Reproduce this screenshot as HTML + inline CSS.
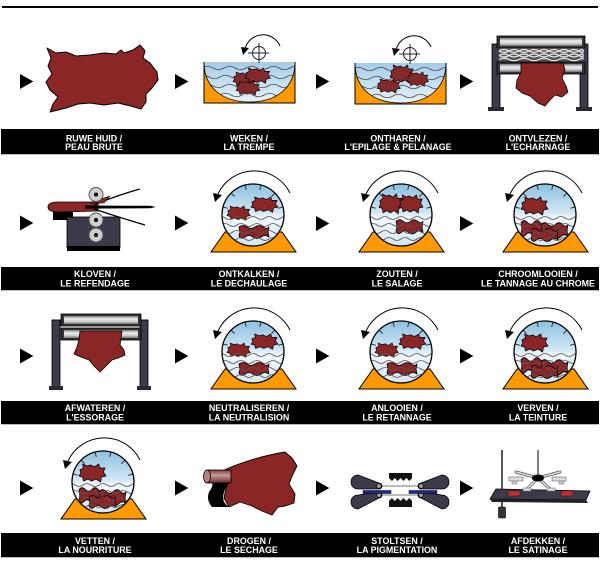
<!DOCTYPE html>
<html><head><meta charset="utf-8">
<style>
html,body{margin:0;padding:0;background:#fff;}
svg{display:block;}
text{font-family:"Liberation Sans",Arial,sans-serif;font-weight:bold;font-size:8.9px;fill:#fff;text-anchor:middle;}
</style></head><body>
<svg width="600" height="561" viewBox="0 0 600 561" xmlns="http://www.w3.org/2000/svg" xmlns:xlink="http://www.w3.org/1999/xlink">
<defs>
 <linearGradient id="water" x1="0" y1="0" x2="0" y2="1">
  <stop offset="0" stop-color="#a3cce8"/><stop offset="1" stop-color="#e6f2fa"/>
 </linearGradient>
 <linearGradient id="sky" x1="0" y1="0" x2="0" y2="1">
  <stop offset="0" stop-color="#8cc0e0"/><stop offset="0.45" stop-color="#cfe5f3"/><stop offset="0.55" stop-color="#f2f8fc"/><stop offset="1" stop-color="#d2e8f5"/>
 </linearGradient>
 <linearGradient id="roll" x1="0" y1="0" x2="0" y2="1">
  <stop offset="0" stop-color="#7a7a7a"/><stop offset="0.35" stop-color="#ececec"/><stop offset="0.7" stop-color="#cfcfcf"/><stop offset="1" stop-color="#6a6a6a"/>
 </linearGradient>
 <linearGradient id="tube" x1="0" y1="0" x2="0" y2="1">
  <stop offset="0" stop-color="#7a3a3a"/><stop offset="0.4" stop-color="#c99a9a"/><stop offset="1" stop-color="#6a2a2a"/>
 </linearGradient>
 <path id="arr" d="M0,0 L13.3,7.5 L0,15 Z" fill="#000"/>
 <path id="sh" d="M1,6 L5,4 L4,0 L9,2 L13,1 L17,3 L22,0 L23,4 L29,4 L27,8 L30,12 L25,13 L24,18 L19,15 L14,17 L10,15 L5,17 L4,13 L0,12 L2,9 Z" fill="#8b2626" stroke="#000" stroke-width="0.8" stroke-linejoin="round"/>
 <path id="wh" d="M0,3 Q4,0 8,3 T16,3 T24,3 T30,3 L29,8 L30,13 Q26,10 22,13 T14,13 T6,13 T0,12 L1,8 Z" fill="#8b2626" stroke="#000" stroke-width="0.8" stroke-linejoin="round"/>
 <clipPath id="dc"><circle cx="0" cy="0" r="31"/></clipPath>
 <clipPath id="bowl"><path d="M0,0 L91,0 C91,27 71,40 45.5,40 C20,40 0,27 0,0 Z"/></clipPath>
 <g id="drumback">
  <polygon points="-42,37 43,37 29,17 -28,17" fill="#f90" stroke="#000" stroke-width="1"/>
  <circle r="31" fill="url(#sky)"/>
 </g>
 <g id="drumfront">
  <g clip-path="url(#dc)" fill="none" stroke="#555" stroke-width="0.8">
   <path d="M-36,3 q4,-3 8,0 t8,0 t8,0 t8,0 t8,0 t8,0 t8,0 t8,0 t8,0"/>
   <path d="M-32,10 q4,-3 8,0 t8,0 t8,0 t8,0 t8,0 t8,0 t8,0 t8,0 t8,0"/>
   <path d="M-36,17 q4,-3 8,0 t8,0 t8,0 t8,0 t8,0 t8,0 t8,0 t8,0 t8,0"/>
   <path d="M-32,24 q4,-3 8,0 t8,0 t8,0 t8,0 t8,0 t8,0 t8,0 t8,0 t8,0"/>
  </g>
  <g stroke="#333" stroke-width="1">
   <line x1="-29.9" y1="-8" x2="-25.1" y2="-6.7"/>
   <line x1="-21.9" y1="-21.9" x2="-18.4" y2="-18.4"/>
   <line x1="-8" y1="-29.9" x2="-6.7" y2="-25.1"/>
   <line x1="8" y1="-29.9" x2="6.7" y2="-25.1"/>
   <line x1="21.9" y1="-21.9" x2="18.4" y2="-18.4"/>
   <line x1="29.9" y1="-8" x2="25.1" y2="-6.7"/>
  </g>
  <circle r="31" fill="none" stroke="#000" stroke-width="1.3"/>
  <path d="M37,-22 A40,40 0 0 0 -35,-21" fill="none" stroke="#000" stroke-width="1"/>
  <polygon points="-40,-22 -31,-20 -38,-13" fill="#000"/>
 </g>
 <g id="tubback">
  <rect width="91" height="41" fill="#f90"/>
  <path d="M0,0 L91,0 C91,27 71,40 45.5,40 C20,40 0,27 0,0 Z" fill="url(#water)"/>
 </g>
 <g id="tubfront">
  <g clip-path="url(#bowl)" fill="none" stroke="#444" stroke-width="0.8">
   <path d="M-2,6 q5.5,-3.5 11,0 t11,0 t11,0 t11,0 t11,0 t11,0 t11,0 t11,0 t11,0"/>
   <path d="M-6,15 q5.5,-3.5 11,0 t11,0 t11,0 t11,0 t11,0 t11,0 t11,0 t11,0 t11,0"/>
   <path d="M-2,24 q5.5,-3.5 11,0 t11,0 t11,0 t11,0 t11,0 t11,0 t11,0 t11,0 t11,0"/>
   <path d="M-6,33 q5.5,-3.5 11,0 t11,0 t11,0 t11,0 t11,0 t11,0 t11,0 t11,0 t11,0"/>
  </g>
  <path d="M0,0 C0,27 20,40 45.5,40 C71,40 91,27 91,0" fill="none" stroke="#000" stroke-width="0.8"/>
  <path d="M0,0 L0,41 L91,41 L91,0" fill="none" stroke="#000" stroke-width="1"/>
  <circle cx="55" cy="-9" r="6.5" fill="none" stroke="#222" stroke-width="1"/>
  <line x1="44" y1="-9" x2="65" y2="-9" stroke="#222" stroke-width="1"/>
  <line x1="55" y1="-19" x2="55" y2="1" stroke="#222" stroke-width="1"/>
  <path d="M76,-16 A18.5,18.5 0 0 0 41,-13" fill="none" stroke="#000" stroke-width="1"/>
  <polygon points="37,-15 45,-14 39,-7" fill="#000"/>
 </g>
</defs>

<!-- top rule -->
<rect x="2" y="6" width="596" height="2" fill="#000"/>

<!-- label bars -->
<rect x="1" y="129" width="598" height="25" fill="#000"/>
<rect x="1" y="154" width="598" height="1" fill="#bbb"/>
<rect x="1" y="267" width="598" height="23" fill="#000"/>
<rect x="1" y="290" width="598" height="1" fill="#bbb"/>
<rect x="1" y="401" width="598" height="23" fill="#000"/>
<rect x="1" y="424" width="598" height="1" fill="#bbb"/>
<rect x="1" y="533" width="598" height="24" fill="#000"/>
<rect x="1" y="557" width="598" height="1" fill="#bbb"/>

<!-- labels -->
<text x="94" y="141.7">RUWE HUID /</text><text x="94" y="150.2">PEAU BRUTE</text>
<text x="249" y="141.7">WEKEN /</text><text x="249" y="150.2">LA TREMPE</text>
<text x="398" y="141.7">ONTHAREN /</text><text x="398" y="150.2">L'EPILAGE &amp; PELANAGE</text>
<text x="538" y="141.7">ONTVLEZEN /</text><text x="538" y="150.2">L'ECHARNAGE</text>

<text x="95" y="277">KLOVEN /</text><text x="95" y="286.5">LE REFENDAGE</text>
<text x="249" y="277">ONTKALKEN /</text><text x="249" y="286.5">LE DECHAULAGE</text>
<text x="397" y="277">ZOUTEN /</text><text x="397" y="286.5">LE SALAGE</text>
<text x="538" y="277">CHROOMLOOIEN /</text><text x="538" y="286.5">LE TANNAGE AU CHROME</text>

<text x="95" y="411">AFWATEREN /</text><text x="95" y="420.5">L'ESSORAGE</text>
<text x="249" y="411">NEUTRALISEREN /</text><text x="249" y="420.5">LA NEUTRALISION</text>
<text x="397" y="411">ANLOOIEN /</text><text x="397" y="420.5">LE RETANNAGE</text>
<text x="538" y="411">VERVEN /</text><text x="538" y="420.5">LA TEINTURE</text>

<text x="95" y="544">VETTEN /</text><text x="95" y="553">LA NOURRITURE</text>
<text x="249" y="544">DROGEN /</text><text x="249" y="553">LE SECHAGE</text>
<text x="397" y="544">STOLTSEN /</text><text x="397" y="553">LA PIGMENTATION</text>
<text x="538" y="544">AFDEKKEN /</text><text x="538" y="553">LE SATINAGE</text>

<!-- arrows -->
<use xlink:href="#arr" href="#arr" x="20" y="74"/>
<use xlink:href="#arr" href="#arr" x="175" y="74"/>
<use xlink:href="#arr" href="#arr" x="316" y="74"/>
<use xlink:href="#arr" href="#arr" x="460" y="74"/>
<use xlink:href="#arr" href="#arr" x="20" y="215.5"/>
<use xlink:href="#arr" href="#arr" x="175" y="215.5"/>
<use xlink:href="#arr" href="#arr" x="316" y="216"/>
<use xlink:href="#arr" href="#arr" x="460" y="216"/>
<use xlink:href="#arr" href="#arr" x="20" y="348.5"/>
<use xlink:href="#arr" href="#arr" x="175" y="348.5"/>
<use xlink:href="#arr" href="#arr" x="316" y="348.5"/>
<use xlink:href="#arr" href="#arr" x="460" y="348.5"/>
<use xlink:href="#arr" href="#arr" x="20" y="480.5"/>
<use xlink:href="#arr" href="#arr" x="175" y="480.5"/>
<use xlink:href="#arr" href="#arr" x="316" y="480.5"/>
<use xlink:href="#arr" href="#arr" x="460" y="480.5"/>

<!-- ROW 1 -->
<!-- raw hide -->
<path d="M47,48 L56,53 L66,52 L76,56 L90,55 L104,53 L116,54 L121,50 L124,53 L133,50 L140,45 L145,51 L143,58 L150,63 L157,72 L158,80 L152,88 L146,94 L146,102 L141,109 L131,106 L118,103 L104,105 L90,103 L78,104 L66,108 L50,112 L53,104 L58,97 L50,90 L46,82 L52,74 L48,66 L51,58 Z" fill="#8b2626" stroke="#000" stroke-width="1" stroke-linejoin="round"/>

<!-- tub weken -->
<g transform="translate(204,62)">
 <use xlink:href="#tubback" href="#tubback"/>
 <use xlink:href="#sh" href="#sh" transform="translate(29,10) scale(0.75,0.8)"/>
 <use xlink:href="#sh" href="#sh" transform="translate(41,6) scale(0.85,0.85)"/>
 <use xlink:href="#sh" href="#sh" transform="translate(32,19) scale(0.8,0.78)"/>
 <use xlink:href="#tubfront" href="#tubfront"/>
</g>
<!-- tub ontharen -->
<g transform="translate(355,63)">
 <use xlink:href="#tubback" href="#tubback"/>
 <use xlink:href="#sh" href="#sh" transform="translate(22,16) scale(0.78,0.78)"/>
 <use xlink:href="#sh" href="#sh" transform="translate(35,2) scale(0.8,1)"/>
 <use xlink:href="#sh" href="#sh" transform="translate(52,9) scale(0.72,0.8)"/>
 <use xlink:href="#tubfront" href="#tubfront"/>
</g>

<!-- press ontvlezen -->
<g>
 <rect x="492" y="44" width="8" height="65" fill="#3c3b4a" stroke="#000" stroke-width="0.8"/>
 <rect x="580" y="44" width="8" height="65" fill="#3c3b4a" stroke="#000" stroke-width="0.8"/>
 <rect x="488" y="107" width="16" height="4" fill="#2a2a33"/>
 <rect x="576" y="107" width="16" height="4" fill="#2a2a33"/>
 <rect x="497" y="36" width="88" height="12" fill="#333" stroke="#000" stroke-width="0.8"/>
 <rect x="500" y="38" width="82" height="8" fill="url(#roll)"/>
 <rect x="499" y="48" width="84" height="14" fill="#555"/>
 <g fill="none" stroke="#e8e8e8" stroke-width="1.2">
  <path d="M499,51 q5,-3 10,0 t10,0 t10,0 t10,0 t10,0 t10,0 t10,0 t10,0 t4,0"/>
  <path d="M499,51 q5,3 10,0 t10,0 t10,0 t10,0 t10,0 t10,0 t10,0 t10,0 t4,0"/>
  <path d="M499,55.5 q5,-3 10,0 t10,0 t10,0 t10,0 t10,0 t10,0 t10,0 t10,0 t4,0"/>
  <path d="M499,55.5 q5,3 10,0 t10,0 t10,0 t10,0 t10,0 t10,0 t10,0 t10,0 t4,0"/>
  <path d="M499,59.5 q5,-2.5 10,0 t10,0 t10,0 t10,0 t10,0 t10,0 t10,0 t10,0 t4,0"/>
 </g>
 <rect x="497" y="62" width="88" height="12" fill="#333" stroke="#000" stroke-width="0.8"/>
 <rect x="500" y="64" width="82" height="8" fill="url(#roll)"/>
 <path d="M521,63 L563,63 L565,70 L562,78 L566,86 L568,92 L562,97 L555,95 L550,100 L545,106 L538,103 L530,96 L522,93 L516,88 L517,80 L521,72 Z" fill="#8b2626" stroke="#000" stroke-width="0.8" stroke-linejoin="round"/>
</g>

<!-- ROW 2 -->
<!-- splitting machine -->
<g>
 <rect x="53" y="212" width="20" height="8" fill="#000"/>
 <rect x="67" y="217" width="53" height="31" fill="#3c3a4a" stroke="#000" stroke-width="0.8"/>
 <rect x="67" y="246" width="53" height="5" fill="#000"/>
 <path d="M98,202 L58,202 Q48,202 48,207 Q48,212 58,212 L98,211 Z" fill="#8b2626" stroke="#000" stroke-width="0.8"/>
 <path d="M94,205 Q115,196 140,189" fill="none" stroke="#000" stroke-width="1.3"/>
 <path d="M94,209 Q118,217 145,225" fill="none" stroke="#000" stroke-width="1.3"/>
 <path d="M90,203 Q100,199 110,196 L104,203 Z" fill="#8b2626" stroke="#000" stroke-width="0.6"/>
 <polygon points="85,205.5 150,205.8 156,207 150,208.2 85,208.6" fill="#000"/>
 <g fill="#cfcfcf" stroke="#555" stroke-width="1">
  <circle cx="96" cy="194.5" r="7"/>
  <circle cx="96" cy="220" r="7"/>
  <circle cx="96" cy="235" r="7"/>
 </g>
 <g fill="#000">
  <circle cx="96" cy="194.5" r="2"/>
  <circle cx="96" cy="220" r="2"/>
  <circle cx="96" cy="235" r="2"/>
 </g>
</g>

<!-- drum ontkalken (A) -->
<g transform="translate(253,215)">
 <use xlink:href="#drumback" href="#drumback"/>
 <g clip-path="url(#dc)">
  <use xlink:href="#sh" href="#sh" transform="translate(-26,-9) scale(0.78,0.8)"/>
  <use xlink:href="#sh" href="#sh" transform="translate(-2,-18) scale(0.9,0.85)"/>
  <use xlink:href="#wh" href="#wh" transform="translate(-14,9)"/>
 </g>
 <use xlink:href="#drumfront" href="#drumfront"/>
</g>
<!-- drum zouten (A') -->
<g transform="translate(401,215)">
 <use xlink:href="#drumback" href="#drumback"/>
 <g clip-path="url(#dc)">
  <use xlink:href="#sh" href="#sh" transform="translate(-22,-21) scale(0.8,1.1)"/>
  <use xlink:href="#sh" href="#sh" transform="translate(-2,-20) scale(0.8,1)"/>
  <use xlink:href="#wh" href="#wh" transform="translate(-5,3) scale(0.9,1.1)"/>
 </g>
 <use xlink:href="#drumfront" href="#drumfront"/>
</g>
<!-- drum chroomlooien (B) -->
<g transform="translate(545,215)">
 <use xlink:href="#drumback" href="#drumback"/>
 <g clip-path="url(#dc)">
  <use xlink:href="#sh" href="#sh" transform="translate(-24,-18) scale(0.9,1)"/>
  <use xlink:href="#wh" href="#wh" transform="translate(-24,4) scale(0.8,1.2)"/>
  <use xlink:href="#wh" href="#wh" transform="translate(-4,6) scale(0.9,1.2)"/>
  <use xlink:href="#wh" href="#wh" transform="translate(-14,12) scale(0.9,1)"/>
 </g>
 <use xlink:href="#drumfront" href="#drumfront"/>
</g>

<!-- ROW 3 -->
<!-- press afwateren -->
<g>
 <rect x="52" y="320" width="96" height="5" fill="#3c3b4a" stroke="#000" stroke-width="0.6"/>
 <rect x="52" y="320" width="8" height="68" fill="#3c3b4a" stroke="#000" stroke-width="0.8"/>
 <rect x="140" y="320" width="8" height="68" fill="#3c3b4a" stroke="#000" stroke-width="0.8"/>
 <rect x="49" y="386" width="14" height="4" fill="#2a2a33"/>
 <rect x="137" y="386" width="14" height="4" fill="#2a2a33"/>
 <rect x="61" y="314" width="80" height="12" fill="#333" stroke="#000" stroke-width="0.8"/>
 <rect x="64" y="316" width="74" height="8" fill="url(#roll)"/>
 <rect x="61" y="328" width="80" height="12" fill="#333" stroke="#000" stroke-width="0.8"/>
 <rect x="64" y="330" width="74" height="8" fill="url(#roll)"/>
 <path d="M80,331 L122,331 L121,338 L120,345 L124,350 L125,355 L118,358 L112,360 L106,366 L100,372 L94,366 L89,360 L81,357 L74,354 L77,347 L79,340 Z" fill="#8b2626" stroke="#000" stroke-width="0.8" stroke-linejoin="round"/>
</g>

<!-- drum neutraliseren (A) -->
<g transform="translate(253,352)">
 <use xlink:href="#drumback" href="#drumback"/>
 <g clip-path="url(#dc)">
  <use xlink:href="#sh" href="#sh" transform="translate(-26,-9) scale(0.78,0.8)"/>
  <use xlink:href="#sh" href="#sh" transform="translate(-2,-18) scale(0.9,0.85)"/>
  <use xlink:href="#wh" href="#wh" transform="translate(-14,9)"/>
 </g>
 <use xlink:href="#drumfront" href="#drumfront"/>
</g>
<!-- drum anlooien (A) -->
<g transform="translate(401,352)">
 <use xlink:href="#drumback" href="#drumback"/>
 <g clip-path="url(#dc)">
  <use xlink:href="#sh" href="#sh" transform="translate(-26,-9) scale(0.78,0.8)"/>
  <use xlink:href="#sh" href="#sh" transform="translate(-2,-18) scale(0.9,0.85)"/>
  <use xlink:href="#wh" href="#wh" transform="translate(-14,9)"/>
 </g>
 <use xlink:href="#drumfront" href="#drumfront"/>
</g>
<!-- drum verven (B) -->
<g transform="translate(545,352)">
 <use xlink:href="#drumback" href="#drumback"/>
 <g clip-path="url(#dc)">
  <use xlink:href="#sh" href="#sh" transform="translate(-24,-18) scale(0.9,1)"/>
  <use xlink:href="#wh" href="#wh" transform="translate(-24,4) scale(0.8,1.2)"/>
  <use xlink:href="#wh" href="#wh" transform="translate(-4,6) scale(0.9,1.2)"/>
  <use xlink:href="#wh" href="#wh" transform="translate(-14,12) scale(0.9,1)"/>
 </g>
 <use xlink:href="#drumfront" href="#drumfront"/>
</g>

<!-- ROW 4 -->
<!-- drum vetten (B) -->
<g transform="translate(103,482)">
 <use xlink:href="#drumback" href="#drumback"/>
 <g clip-path="url(#dc)">
  <use xlink:href="#sh" href="#sh" transform="translate(-24,-18) scale(0.9,1)"/>
  <use xlink:href="#wh" href="#wh" transform="translate(-24,4) scale(0.8,1.2)"/>
  <use xlink:href="#wh" href="#wh" transform="translate(-4,6) scale(0.9,1.2)"/>
  <use xlink:href="#wh" href="#wh" transform="translate(-14,12) scale(0.9,1)"/>
 </g>
 <use xlink:href="#drumfront" href="#drumfront"/>
</g>

<!-- drogen -->
<g>
 <path d="M222,471 Q250,458 285,452 L292,458 L297,466 L293,474 L289,484 L295,494 L294,503 L285,506 L278,507 L272,515 L262,511 L252,506 L240,502 L229,507 L224,498 L226,488 L230,480 Z" fill="#8b2626" stroke="#000" stroke-width="0.9" stroke-linejoin="round"/>
 <path d="M212,480 L231,479 Q224,488 223,497 Q223,503 229,507 L212,507 Q206,500 209,492 Q214,486 212,480 Z" fill="#000"/>
 <rect x="207" y="470" width="24" height="13" fill="url(#tube)" stroke="#000" stroke-width="0.8"/>
 <ellipse cx="207" cy="476.5" rx="3.5" ry="6.5" fill="#b88080" stroke="#000" stroke-width="0.8"/>
</g>

<!-- stoltsen -->
<g>
 <line x1="379" y1="486" x2="421" y2="486" stroke="#777" stroke-width="1"/>
 <line x1="379" y1="495" x2="421" y2="495" stroke="#777" stroke-width="1"/>
 <g id="stL">
  <path d="M358,475 L379,483 A3,3 0 0 1 379,489 L358,489 A7,7 0 0 1 358,475 Z" fill="#3c3b4a" stroke="#000" stroke-width="0.8"/>
  <circle cx="379" cy="486" r="2.3" fill="#999" stroke="#000" stroke-width="0.6"/>
  <path d="M358,495 L379,492 A3,3 0 0 1 379,498 L358,509 A7,7 0 0 1 358,495 Z" fill="#3c3b4a" stroke="#000" stroke-width="0.8"/>
  <circle cx="379" cy="495" r="2.3" fill="#999" stroke="#000" stroke-width="0.6"/>
  <rect x="363" y="490.5" width="28" height="3" fill="#1a2a8a" stroke="#000" stroke-width="0.5"/>
 </g>
 <use xlink:href="#stL" href="#stL" transform="translate(800,0) scale(-1,1)"/>
 <rect x="389" y="473" width="23" height="5" fill="#111"/>
 <path d="M389,478 l2.9,3 l2.9,-3 l2.9,3 l2.9,-3 l2.9,3 l2.9,-3 l2.9,3 l2.9,-3 Z" fill="#111"/>
 <rect x="389" y="501" width="23" height="6" fill="#111"/>
 <path d="M389,501 l2.9,-3 l2.9,3 l2.9,-3 l2.9,3 l2.9,-3 l2.9,3 l2.9,-3 l2.9,3 Z" fill="#111"/>
</g>

<!-- afdekken -->
<g>
 <line x1="502" y1="450" x2="502" y2="508" stroke="#555" stroke-width="2"/>
 <rect x="498.5" y="507" width="7" height="11" rx="1" fill="#333" stroke="#000" stroke-width="0.6"/>
 <polygon points="496,489 590,491 586,500 490,499" fill="#3c3b48" stroke="#000" stroke-width="0.8"/>
 <polygon points="490,499 586,500 588,503 492,502" fill="#222"/>
 <path d="M507,491 L518,491 L521,493.5 L518,496 L507,496 L509,493.5 Z" fill="#b33" stroke="#600" stroke-width="0.5"/>
 <path d="M560,491 L571,491 L574,493.5 L571,496 L560,496 L562,493.5 Z" fill="#b33" stroke="#600" stroke-width="0.5"/>
 <line x1="538" y1="450" x2="538" y2="478" stroke="#555" stroke-width="1.5"/>
 <g stroke="#555" stroke-width="3" stroke-linecap="round">
  <line x1="538" y1="478" x2="516" y2="472"/>
  <line x1="538" y1="478" x2="560" y2="472"/>
  <line x1="538" y1="478" x2="527" y2="489"/>
  <line x1="538" y1="478" x2="550" y2="489"/>
 </g>
 <g stroke="#ddd" stroke-width="1.6" stroke-linecap="round">
  <line x1="538" y1="478" x2="516" y2="472"/>
  <line x1="538" y1="478" x2="560" y2="472"/>
  <line x1="538" y1="478" x2="527" y2="489"/>
  <line x1="538" y1="478" x2="550" y2="489"/>
 </g>
 <rect x="509" y="477" width="14" height="4" fill="#ddd" stroke="#666" stroke-width="0.6"/>
 <rect x="552" y="477" width="14" height="4" fill="#ddd" stroke="#666" stroke-width="0.6"/>
 <rect x="512" y="481" width="5" height="3" fill="#ccc" stroke="#777" stroke-width="0.5"/>
 <rect x="559" y="481" width="5" height="3" fill="#ccc" stroke="#777" stroke-width="0.5"/>
 <rect x="523" y="488" width="8" height="3" fill="#ddd" stroke="#666" stroke-width="0.5"/>
 <rect x="547" y="488" width="8" height="3" fill="#ddd" stroke="#666" stroke-width="0.5"/>
 <ellipse cx="538" cy="478" rx="6" ry="3.5" fill="#000"/>
</g>
</svg>
</body></html>
